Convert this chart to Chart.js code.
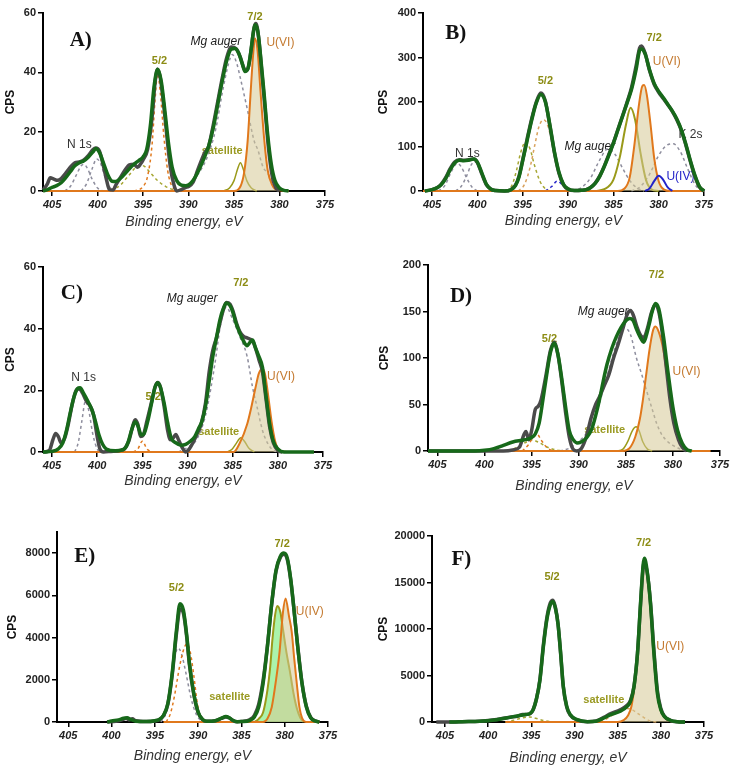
<!DOCTYPE html>
<html>
<head>
<meta charset="utf-8">
<script src="https://cdn.jsdelivr.net/npm/chart.js"></script>
<style>
  html, body { margin: 0; padding: 0; background: #fff; }
  #page { position: relative; width: 740px; height: 770px; overflow: hidden; }
  .panel { position: absolute; }
</style>
</head>
<body>
<div id="page"></div>
<script>
// --- tick labels ---
const xTicks = [405, 400, 395, 390, 385, 380, 375];
const aTicks = [0, 20, 40, 60];
const bTicks = [0, 100, 200, 300, 400];
const cTicks = [0, 20, 40, 60];
const dTicks = [0, 50, 100, 150, 200];
const eTicks = [0, 2000, 4000, 6000, 8000];
const fTicks = [0, 5000, 10000, 15000, 20000];

// --- panel A : [binding energy, CPS] ---
const aRaw = [[406,0.3],[405.5,2.5],[405.2,4.5],[404.8,4],[404.4,3.6],[404,4.2],[403.5,6],[403,8],[402.5,9.5],[402,9.8],[401.5,10.5],[401,12],[400.5,14],[400.2,14.5],[399.8,13.5],[399.4,9],[399,3.5],[398.7,0.5],[398.3,0.3],[398,2],[397.5,4.5],[397,7],[396.5,8.8],[396,9],[395.6,8],[395.3,9],[395,10.5],[394.5,14],[394,25],[393.7,36],[393.4,41],[393.1,38],[392.7,28],[392.3,16],[392,8],[391.6,2],[391.3,0],[390.8,0.5],[390.3,1.2],[390,1.5],[389.5,3],[389,7],[388.5,11],[388.2,13],[387.8,15],[387.3,22],[386.8,30],[386.3,38],[385.8,45],[385.3,48.5],[384.8,48],[384.3,45],[384,42],[383.7,40.5],[383.4,42],[383.1,48],[382.8,55],[382.6,56.5],[382.3,52],[382,42],[381.6,28],[381.2,14],[380.8,5],[380.4,1],[380,0]];
const aFit = [[406,0],[405.5,0.5],[405,1.2],[404.5,1.8],[404,2.8],[403.5,4.5],[403,6.5],[402.5,8.5],[402,9.5],[401.5,10.2],[401,11.5],[400.5,13.2],[400.2,14.3],[399.8,13],[399.3,9],[398.8,5],[398.4,3.3],[398,3.2],[397.5,4.2],[397,5.8],[396.5,7.5],[396,9],[395.5,10.2],[395,11.5],[394.6,14],[394.2,22],[393.8,35],[393.4,41],[393,37],[392.6,27],[392.2,16],[391.8,8],[391.3,3.5],[390.8,2],[390.3,1.8],[389.8,2.5],[389.3,4.5],[388.8,7.5],[388.3,11],[387.8,15],[387.3,21],[386.8,29],[386.3,37],[385.8,44],[385.3,47.8],[384.9,48],[384.5,46.5],[384.1,43],[383.8,40.3],[383.5,41],[383.2,46],[382.9,53],[382.7,56],[382.4,54],[382.1,46],[381.7,33],[381.3,19],[380.9,9],[380.5,3.5],[380,1],[379.5,0.2],[379,0]];
const aN1a = [[403.6,0],[403,1.5],[402.4,5],[401.8,8.5],[401.5,9],[401.1,7.5],[400.6,4],[400,1],[399.4,0]];
const aN1b = [[401.8,0],[401.2,2.5],[400.6,7.5],[400.1,10.8],[399.7,9.5],[399.2,5],[398.7,1.5],[398.2,0]];
const aOl52 = [[398.5,0],[397.5,2],[396.5,5.5],[395.5,8.5],[395,8.5],[394.3,6.5],[393.5,3.8],[392.5,1.5],[391.5,0.3],[390.5,0]];
const aOr52 = [[396,0],[395,1.5],[394.5,5],[394,16],[393.7,30],[393.4,39.5],[393.1,33],[392.7,18],[392.3,7],[391.8,1.5],[391,0]];
const aMg = [[391,0],[390,2],[389,5.5],[388,11],[387,21],[386.3,33],[385.6,43],[385.2,46],[384.7,43],[384.3,38],[383.5,27],[382.8,17],[382.4,14],[381.8,8],[381.3,6],[380.7,2.5],[380.2,1],[379.5,0]];
const aSat = [[386.2,0],[385.5,1],[385,3.5],[384.6,7.5],[384.3,9.5],[384,7.5],[383.6,3.5],[383.1,1],[382.5,0]];
const aU6 = [[406,0],[385,0],[384.3,1.5],[383.9,6],[383.5,17],[383.2,32],[382.9,46],[382.7,51.5],[382.4,47],[382.1,34],[381.7,18],[381.3,7],[380.8,2],[380.2,0.3],[379,0]];

// --- panel B ---
const bRaw = [[405.8,0],[405,3],[404.4,8],[404,15],[403.5,30],[403,50],[402.5,65],[402,70],[401.5,69],[401,70],[400.4,72],[400,64],[399.5,38],[399,14],[398.5,4],[398,1],[397,0],[396.3,3],[395.8,13],[395.4,34],[395,70],[394.5,118],[394,163],[393.5,200],[393,220],[392.5,202],[392,146],[391.5,86],[391,40],[390.5,14],[390,4],[389.3,1],[388.5,1.5],[388,3],[387.5,8],[387,18],[386.5,34],[386,56],[385.5,82],[385,108],[384.5,138],[384,168],[383.5,199],[383,232],[382.5,280],[382.1,322],[381.9,326],[381.5,310],[381,270],[380.5,240],[380,222],[379.5,208],[379,194],[378.5,179],[378,160],[377.5,136],[377,103],[376.5,66],[376,33],[375.5,9],[375,0]];
const bFit = [[405.8,0],[405,3],[404.4,8],[404,14],[403.5,28],[403,48],[402.5,63],[402,69],[401.5,68],[401,69],[400.4,72],[400,65],[399.5,40],[399,15],[398.5,4],[398,1],[397,0],[396.3,3],[395.8,12],[395.4,32],[395,68],[394.5,115],[394,160],[393.5,198],[393,217],[392.5,200],[392,148],[391.5,88],[391,42],[390.5,15],[390,5],[389.3,1],[388.5,1.5],[388,3],[387.5,8],[387,17],[386.5,33],[386,55],[385.5,80],[385,107],[384.5,137],[384,167],[383.5,197],[383,228],[382.5,272],[382.1,316],[381.9,319],[381.5,308],[381,272],[380.5,242],[380,224],[379.5,210],[379,195],[378.5,180],[378,162],[377.5,138],[377,105],[376.5,68],[376,35],[375.5,10],[375,0]];
const bN1a = [[404.3,0],[403.6,12],[403,38],[402.5,57],[402.2,62],[401.8,55],[401.2,30],[400.6,9],[400,0]];
const bN1b = [[402.4,0],[401.8,10],[401.2,33],[400.7,58],[400.3,66],[399.9,58],[399.4,30],[398.8,8],[398.2,0]];
const bOl52 = [[396.8,0],[396.2,12],[395.7,45],[395.2,88],[394.7,110],[394.2,95],[393.7,58],[393.1,22],[392.5,5],[392,0]];
const bOr52 = [[395.5,0],[394.8,15],[394.2,52],[393.7,100],[393.2,145],[392.7,160],[392.2,145],[391.7,100],[391.2,52],[390.6,15],[389.8,0]];
const bBlue52 = [[392.5,0],[391.8,10],[391.2,22],[390.6,14],[390,3],[389.5,0]];
const bMg = [[389.5,0],[388.5,8],[387.5,30],[386.5,70],[385.6,95],[384.8,82],[384,52],[383.2,24],[382.4,7],[381.6,0]];
const bOl72 = [[387,0],[386,4],[385,25],[384.3,75],[383.6,150],[383.1,187],[382.6,160],[382,85],[381.4,25],[380.8,4],[380,0]];
const bU6 = [[406,0],[384.5,0],[383.8,5],[383.2,30],[382.7,100],[382.2,190],[381.8,236],[381.6,238],[381.3,215],[380.9,150],[380.5,75],[380,22],[379.4,3],[378.8,0],[375,0]];
const bU4 = [[381.5,0],[381,6],[380.5,22],[380,34],[379.5,25],[379,8],[378.5,0]];
const bK2s = [[383,0],[382,10],[381,38],[380,80],[379,104],[378.4,106],[377.6,88],[376.8,50],[376,15],[375.3,0]];

// --- panel C ---
const cRaw = [[406,0],[405.3,0.5],[404.9,4],[404.6,6],[404.3,5],[404,3],[403.6,4.5],[403.2,9],[402.8,15],[402.4,19.5],[402,20.5],[401.6,19],[401.2,16.5],[400.8,15],[400.4,12],[400,5],[399.7,1],[399.3,0],[398.5,0.2],[397.5,0.5],[397,1],[396.5,3.5],[396.1,8],[395.8,10.5],[395.5,9],[395.2,5],[394.9,5.5],[394.5,10],[394,16],[393.6,21],[393.3,22.5],[393,21],[392.6,15],[392.2,7],[391.9,4],[391.6,4.5],[391.3,5.7],[391,4],[390.6,1.5],[390.2,0],[389.8,1],[389.4,3],[389,5.5],[388.5,9],[388,16],[387.6,26],[387.2,33],[386.8,37],[386.4,42],[386,46.5],[385.7,48.5],[385.3,48],[385,46],[384.6,42],[384.2,39],[383.8,37.5],[383.4,37],[383,36.5],[382.7,35.5],[382.4,33],[382.1,30],[381.7,26],[381.3,17],[380.9,8],[380.5,3],[380,0.5],[379.5,0]];
const cFit = [[406,0],[405,0.2],[404.3,1],[403.8,3],[403.4,7],[403,12.5],[402.6,17.5],[402.2,20.5],[401.9,20.8],[401.5,19],[401,16.3],[400.6,13.8],[400.2,10],[399.8,5.5],[399.4,2.5],[399,1],[398,0.4],[397,1],[396.6,3],[396.2,7],[395.8,9.8],[395.5,8.5],[395.1,5.5],[394.8,6],[394.4,10],[394,15.5],[393.6,21],[393.3,22.5],[393,21],[392.6,16],[392.2,9.5],[391.8,4.5],[391.3,3],[390.7,2.2],[390.2,2.5],[389.7,3.5],[389.2,5],[388.8,7.5],[388.4,10],[388,15],[387.6,23],[387.2,31],[386.8,37],[386.4,43],[386,46.8],[385.7,48.3],[385.3,47.5],[385,45.5],[384.6,41.5],[384.2,38.5],[383.8,36],[383.4,34.5],[383.1,35.5],[382.8,36.3],[382.5,34],[382.1,31],[381.7,27.5],[381.3,18],[380.9,9],[380.5,3.5],[380,1],[379.3,0],[376,0]];
const cN1 = [[402.5,0],[402.1,3],[401.7,10],[401.3,16.5],[400.9,13],[400.5,6],[400,1],[399.6,0]];
const cOr52 = [[396,0],[395.5,1],[395,3.5],[394.5,1],[394,0]];
const cMg = [[391,0],[390,1.5],[389,4],[388,12],[387,28],[386.3,42],[385.7,47],[385,43],[384.3,38],[383.4,31],[382.8,21],[382.3,14.6],[381.7,7],[381.1,2.7],[380.5,0.5],[379.8,0]];
const cSat = [[385.6,0],[385.1,0.8],[384.6,2.8],[384.1,4.6],[383.7,3.5],[383.2,1.2],[382.6,0]];
const cU6 = [[406,0],[384.9,0],[384.2,3],[383.4,9],[382.9,15],[382.5,20.5],[382.1,25.5],[381.7,27],[381.4,25],[381.1,19],[380.7,10],[380.3,3.5],[379.8,0.5],[379,0],[376,0]];

// --- panel D ---
const dRaw = [[406,0],[398,0],[397,1],[396.3,4],[395.8,18],[395.6,21],[395.3,12],[395,22],[394.6,45],[394.3,48],[394,55],[393.5,80],[393,108],[392.6,117],[392.2,103],[391.8,75],[391.4,42],[391,15],[390.6,2],[390.2,0],[389.7,3],[389.2,15],[388.7,35],[388.2,50],[387.8,58],[387.3,70],[386.8,82],[386.3,100],[385.8,115],[385.3,132],[384.8,148],[384.5,151],[384.2,146],[383.8,133],[383.4,124],[383.1,122],[382.7,132],[382.3,148],[381.9,157],[381.5,150],[381.1,125],[380.7,90],[380.3,55],[379.9,30],[379.4,12],[379,4],[378.5,0]];
const dFit = [[406,0],[401,0],[400,0.7],[399,2.5],[398,6],[397,9.7],[396,11.5],[395.5,12.5],[395,14.5],[394.6,18.5],[394.2,30],[393.8,55],[393.4,82],[393,106],[392.6,116],[392.2,104],[391.8,78],[391.4,48],[391,22],[390.6,12.5],[390.1,8.6],[389.6,10.5],[389.1,15],[388.6,24],[388.2,38],[387.8,55],[387.4,75],[387,93],[386.5,110],[386,123],[385.5,133],[385,140],[384.6,142.5],[384.2,140],[383.9,132],[383.5,123],[383.1,117],[382.8,125],[382.5,137],[382.2,150],[381.85,158.7],[381.5,153],[381,123],[380.5,83],[380.3,68],[380,47],[379.5,22],[379,8],[378.5,1.5],[378,0]];
const dOr52 = [[396,0],[395.4,6],[394.8,15],[394.4,18],[394,12],[393.4,4],[392.8,0.5],[392.3,0]];
const dOl52 = [[397.5,0],[396.5,4],[395.5,10],[395,12],[394.2,9],[393.3,4],[392.3,1],[391.3,0]];
const dMg = [[392,0],[391,3],[390,10],[389,22],[388,45],[387,80],[386,115],[385.2,133],[384.5,125],[383.9,101],[383.3,82],[382.8,65],[382.2,45],[381.7,29],[381.2,18],[380.7,11.5],[380,6],[379.6,4],[379,1],[378.5,0]];
const dSat = [[386,0],[385.3,2],[384.8,10],[384.3,22],[383.9,26],[383.6,22],[383.2,10],[382.7,2],[382.2,0]];
const dU6 = [[406,0],[385.3,0],[384.6,3],[384,15],[383.5,35],[383.2,54],[382.8,85],[382.5,108],[382.1,130],[381.85,134],[381.5,128],[381,108],[380.6,80],[380.3,62],[379.9,38],[379.6,22],[379.2,9],[378.9,4],[378.4,0.5],[378,0],[376,0]];

// --- panel E ---
const eRaw = [[400.5,0],[399.5,30],[398.8,100],[398.3,180],[398,100],[397.6,150],[397.2,60],[396,20],[395,50],[394.5,110],[394,300],[393.5,830],[393,2200],[392.5,4200],[392.1,5350],[391.7,5150],[391.3,3950],[391,2700],[390.5,1300],[390,450],[389.5,120],[389,30],[388,60],[387.3,170],[386.8,240],[386.4,190],[386,80],[385.5,15],[385,30],[384,120],[383.5,320],[383,850],[382.5,1950],[382,3600],[381.5,5600],[381,7150],[380.5,7800],[380.1,7950],[379.7,7700],[379.3,6700],[379,5600],[378.5,3600],[378,1850],[377.5,750],[377,220],[376.5,60],[376,0]];
const eFit = [[400.5,0],[400,50],[399.2,100],[398.6,180],[398.2,200],[397.8,120],[397.2,40],[396,20],[395,60],[394.5,120],[394,320],[393.5,870],[393,2300],[392.5,4360],[392.1,5600],[391.7,5300],[391.3,4050],[391,2770],[390.5,1350],[390,475],[389.5,125],[389,30],[388,60],[387.3,180],[386.8,260],[386.4,200],[386,80],[385.5,15],[385,20],[384,80],[383.5,240],[383,710],[382.5,1820],[382,3560],[381.5,5620],[381,7200],[380.5,7850],[380.1,8000],[379.7,7760],[379.3,6750],[379,5620],[378.5,3560],[378,1820],[377.5,710],[377,200],[376.5,50],[376,0]];
const eGr52 = [[394.3,0],[393.7,450],[393.2,1600],[392.7,3100],[392.3,3500],[391.9,3200],[391.4,2300],[390.8,1100],[390.2,350],[389.5,0]];
const eOr52 = [[393.7,0],[393.2,400],[392.7,1300],[392.2,2500],[391.7,3400],[391.3,3700],[390.9,3300],[390.5,2200],[390.1,900],[389.7,200],[389.3,0]];
const eOl72 = [[383.5,0],[383,150],[382.5,450],[382,1500],[381.7,2500],[381.4,4000],[381.1,5100],[380.85,5500],[380.5,5200],[380.2,4400],[379.8,3300],[379.4,2400],[379,1400],[378.6,650],[378.2,200],[377.8,0]];
const eU4 = [[394,0],[382.5,0],[382,150],[381.5,700],[381,2000],[380.6,3300],[380.2,5200],[379.9,5850],[379.5,5000],[379.2,4300],[378.9,3000],[378.6,1800],[378.3,700],[378,200],[377.5,0],[376,0]];

// --- panel F ---
const fRaw = [[406,0],[404,0],[403,40],[401,80],[399,260],[397.5,520],[396.6,620],[396,800],[395.5,820],[395.1,900],[394.8,1300],[394.4,2500],[394,4600],[393.6,8300],[393.2,11200],[392.8,12800],[392.5,13100],[392.2,12300],[391.9,10500],[391.6,7300],[391.3,3800],[390.9,1600],[390.5,750],[389.7,220],[388.5,30],[387.5,100],[386.6,500],[385.8,900],[384.7,1300],[383.9,1800],[383.5,2350],[383.1,3900],[382.7,7400],[382.35,12600],[382.05,16600],[381.9,17200],[381.6,16200],[381.2,12900],[380.8,7700],[380.4,3400],[380,1450],[379.6,650],[378.9,180],[378.1,30],[377.2,0]];
const fFit = [[404.5,0],[403,35],[401,70],[399,250],[397.5,500],[396.5,680],[395.8,780],[395.2,900],[394.8,1300],[394.4,2500],[394,4500],[393.6,8100],[393.2,11000],[392.8,12600],[392.5,12950],[392.2,12200],[391.9,10500],[391.6,7400],[391.3,3900],[390.9,1700],[390.5,800],[389.7,250],[388.5,40],[387.5,80],[386.6,430],[385.8,790],[384.7,1150],[383.9,1680],[383.5,2250],[383.1,3830],[382.7,7400],[382.35,12770],[382.05,16900],[381.9,17600],[381.6,16350],[381.2,12770],[380.8,7400],[380.4,3100],[380,1320],[379.6,610],[378.9,180],[378.1,35],[377.2,0]];
const fOl52 = [[398,0],[397,200],[396,450],[395.2,550],[394.5,400],[393.5,150],[392.5,30],[391.5,0]];
const fSat = [[387,0],[386,500],[385,1100],[384.2,1450],[383.5,1400],[382.8,1000],[382,500],[381.2,100],[380.5,0]];
const fU6 = [[398,0],[385,0],[384.3,200],[383.8,700],[383.4,1700],[383.1,3500],[382.7,7100],[382.35,12200],[382.05,16600],[381.9,17100],[381.6,16000],[381.2,12500],[380.8,7200],[380.4,3000],[380,1200],[379.6,500],[379,130],[378,0]];

// --- styles ---
const GREEN = '#17691a', RAW = '#4a4a4a', GREY_D = '#8e8e9e';
const ORANGE = '#e0781c', OLIVE = '#9a9a1a', OLIVE_D = '#a6a632', TAN = '#d9a25e', BLUE = '#2323c8';
const BEIGE = 'rgba(214,200,150,0.55)', LIGHTGREEN = 'rgba(150,240,150,0.8)';
const LBL_OLIVE = '#8c8c14', LBL_ORANGE = '#c47a30';
const SANS = '"Liberation Sans", Arial, sans-serif';

const pts = d => d.map(([x, y]) => ({ x, y }));
const fit = d => ({ data: pts(d), borderColor: GREEN, borderWidth: 3.5 });
const raw = d => ({ data: pts(d), borderColor: RAW, borderWidth: 3.5 });
const dash = (d, c) => ({ data: pts(d), borderColor: c, borderWidth: 1.5, borderDash: [3, 3] });
const solid = (d, c, w, bg) => ({ data: pts(d), borderColor: c, borderWidth: w || 1.5, fill: bg ? 'origin' : false, backgroundColor: bg || 'transparent' });

const txt = (text, x, y, color, font) => ({ text, x, y, color, font });
const plain = (t, x, y) => txt(t, x, y, '#333', '12px ' + SANS);
const spin = (t, x, y) => txt(t, x, y, LBL_OLIVE, 'bold 11px ' + SANS);
const uLbl = (t, x, y, c) => txt(t, x, y, c || LBL_ORANGE, '12px ' + SANS);
const mg = (x, y) => txt('Mg auger', x, y, '#222', 'italic 12px ' + SANS);
const sat = (x, y) => txt('satellite', x, y, '#9a9a22', 'bold 11px ' + SANS);
const letter = (t, x, y) => txt(t, x, y, '#111', 'bold 21px "Liberation Serif", "Times New Roman", serif');

const panels = [
  { box: [43, 325, 13, 191], cpsX: 12, titleY: 221, xMax: 406, yMax: 60, yTicks: aTicks,
    sets: [fit(aFit), raw(aRaw), solid(aU6, ORANGE, 2, BEIGE), solid(aSat, OLIVE), dash(aMg, GREY_D), dash(aOr52, ORANGE), dash(aOl52, OLIVE_D), dash(aN1a, GREY_D), dash(aN1b, GREY_D)],
    notes: [letter('A)', 401.85, 50.8), plain('N 1s', 402.0, 15.6), spin('5/2', 393.2, 43.9), mg(387.0, 50.2), spin('7/2', 382.7, 58.7), uLbl('U(VI)', 379.9, 49.9), sat(386.3, 13.4)] },
  { box: [423, 704, 13, 191], cpsX: 385, titleY: 220, xMax: 406, yMax: 400, yTicks: bTicks,
    sets: [fit(bFit), raw(bRaw), solid(bU4, BLUE, 2), solid(bU6, ORANGE, 2, BEIGE), solid(bOl72, OLIVE, 2), dash(bK2s, GREY_D), dash(bMg, GREY_D), dash(bBlue52, BLUE), dash(bOr52, TAN), dash(bOl52, OLIVE_D), dash(bN1a, GREY_D), dash(bN1b, GREY_D)],
    notes: [letter('B)', 402.4, 354), plain('N 1s', 401.1, 84), spin('5/2', 392.5, 247), mg(387.6, 100), spin('7/2', 380.5, 345), uLbl('U(VI)', 379.1, 290), plain('K 2s', 376.5, 126), uLbl('U(IV)', 377.6, 33, BLUE)] },
  { box: [43, 323, 267, 452], cpsX: 12, titleY: 480, xMax: 406, yMax: 60, yTicks: cTicks,
    sets: [fit(cFit), raw(cRaw), solid(cU6, ORANGE, 2, BEIGE), solid(cSat, OLIVE), dash(cMg, GREY_D), dash(cOr52, ORANGE), dash(cN1, GREY_D)],
    notes: [letter('C)', 402.8, 51.5), plain('N 1s', 401.5, 24.2), spin('5/2', 393.8, 17.9), mg(389.5, 49.7), spin('7/2', 384.1, 54.8), uLbl('U(VI)', 379.65, 24.4), sat(386.55, 6.5)] },
  { box: [428, 720, 265, 451], cpsX: 386, titleY: 485, xMax: 406, yMax: 200, yTicks: dTicks,
    sets: [fit(dFit), raw(dRaw), solid(dU6, ORANGE, 2, BEIGE), solid(dSat, OLIVE), dash(dMg, GREY_D), dash(dOr52, ORANGE), dash(dOl52, OLIVE_D)],
    notes: [letter('D)', 402.5, 166), spin('5/2', 393.1, 121), mg(387.4, 150), spin('7/2', 381.75, 189), uLbl('U(VI)', 378.55, 85), sat(387.25, 22.3)] },
  { box: [57, 328, 532, 722], cpsX: 14, titleY: 755, xMax: 406.3, yMax: 9000, yTicks: eTicks,
    sets: [fit(eFit), raw(eRaw), solid(eU4, ORANGE, 2, BEIGE), solid(eOl72, OLIVE, 2, LIGHTGREEN), dash(eOr52, ORANGE), dash(eGr52, GREY_D)],
    notes: [letter('E)', 403.1, 7845), spin('5/2', 392.5, 6340), spin('7/2', 380.3, 8450), uLbl('U(IV)', 377.1, 5230), sat(386.35, 1190)] },
  { box: [432, 704, 536, 722], cpsX: 385, titleY: 757, xMax: 406.5, yMax: 20000, yTicks: fTicks,
    sets: [fit(fFit), raw(fRaw), solid(fU6, ORANGE, 2, BEIGE), dash(fSat, TAN), dash(fOl52, OLIVE_D)],
    notes: [letter('F)', 403.1, 17420), spin('5/2', 392.6, 15630), spin('7/2', 382.0, 19280), uLbl('U(VI)', 378.9, 8120), sat(386.6, 2400)] }
];

// labels are painted under the curves, as in the original figure
const notesPlugin = {
  id: 'notes',
  beforeDatasetsDraw(chart, args, opts) {
    const { ctx, scales: { x, y } } = chart;
    ctx.save();
    ctx.textAlign = 'center';
    ctx.textBaseline = 'middle';
    for (const n of opts.items || []) {
      ctx.font = n.font;
      ctx.fillStyle = n.color;
      ctx.fillText(n.text, x.getPixelForValue(n.x), y.getPixelForValue(n.y));
    }
    ctx.restore();
  }
};

function makePanel(p) {
  const [L, R, T, B] = p.box;
  const padTop = 10, padRight = 14;
  const yW = L - p.cpsX + 7;
  const left = L - yW;
  const top = T - padTop;
  const bottomEdge = p.titleY + 8;
  const xH = bottomEdge - B;
  const w = R + padRight - left, h = bottomEdge - top;

  const div = document.createElement('div');
  div.className = 'panel';
  div.style.left = left + 'px';
  div.style.top = top + 'px';
  const canvas = document.createElement('canvas');
  canvas.width = w; canvas.height = h;
  canvas.style.width = w + 'px'; canvas.style.height = h + 'px';
  div.appendChild(canvas);
  document.getElementById('page').appendChild(div);

  const axisGrid = { display: true, drawOnChartArea: false, drawTicks: true, tickLength: 5, color: '#000', lineWidth: 1.5 };
  const axisBorder = { display: true, color: '#000', width: 2 };

  p.sets.forEach(s => {
    s.pointRadius = 0;
    s.cubicInterpolationMode = 'monotone';
    s.clip = false;
    if (s.fill === undefined) s.fill = false;
  });

  new Chart(canvas, {
    type: 'line',
    data: { datasets: p.sets },
    options: {
      responsive: false,
      animation: false,
      events: [],
      layout: { padding: { top: padTop, right: padRight, left: 0, bottom: 0 } },
      plugins: { legend: { display: false }, tooltip: { enabled: false }, notes: { items: p.notes } },
      scales: {
        x: {
          type: 'linear', reverse: true, min: 375, max: p.xMax,
          afterBuildTicks: s => { s.ticks = xTicks.map(v => ({ value: v })); },
          afterFit: s => { s.height = xH; },
          border: axisBorder, grid: axisGrid,
          ticks: { color: '#222', padding: 2, maxRotation: 0, autoSkip: false, callback: v => String(v), font: { family: SANS, size: 11, weight: 'bold', style: 'italic' } },
          title: { display: true, text: 'Binding energy, eV', color: '#333', padding: 0, font: { family: SANS, size: 14, style: 'italic', lineHeight: 1 } }
        },
        y: {
          type: 'linear', min: 0, max: p.yMax,
          afterBuildTicks: s => { s.ticks = p.yTicks.map(v => ({ value: v })); },
          afterFit: s => { s.width = yW; },
          border: axisBorder, grid: axisGrid,
          ticks: { color: '#222', padding: 2, callback: v => String(v), font: { family: SANS, size: 11, weight: 'bold' } },
          title: { display: true, text: 'CPS', color: '#111', padding: 0, font: { family: SANS, size: 12, weight: 'bold', lineHeight: 1 } }
        }
      }
    },
    plugins: [notesPlugin]
  });
}

panels.forEach(makePanel);
</script>
</body>
</html>
